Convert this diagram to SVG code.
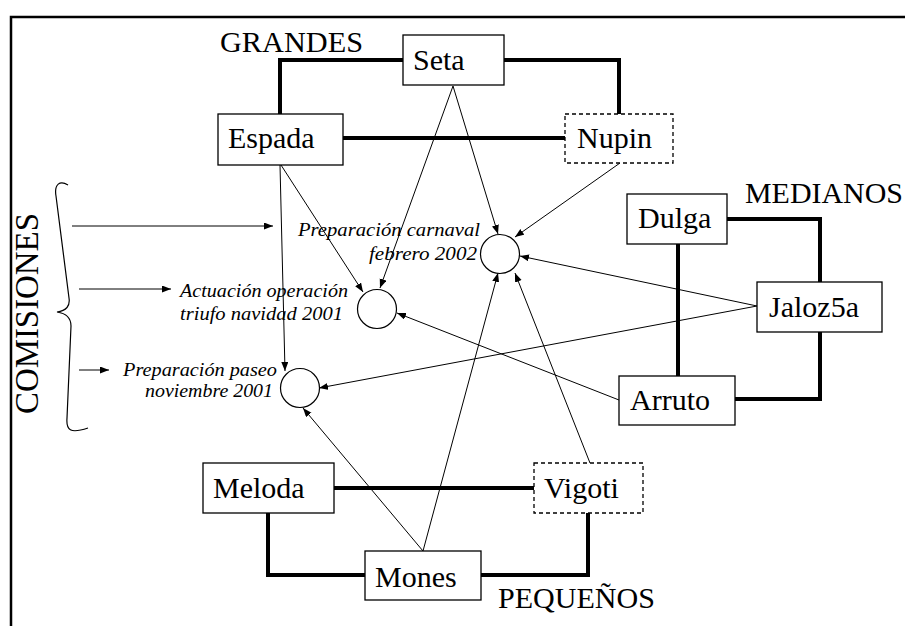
<svg xmlns="http://www.w3.org/2000/svg" width="905" height="626" viewBox="0 0 905 626">
<style>
.bg{fill:#fff}
.frame{fill:none;stroke:#000;stroke-width:2.5}
.box{fill:#fff;stroke:#000;stroke-width:1.3}
.dash{fill:#fff;stroke:#000;stroke-width:1.3;stroke-dasharray:4 3}
.circ{fill:#fff;stroke:#000;stroke-width:1.2}
.thick{fill:none;stroke:#000;stroke-width:4}
.thin{fill:none;stroke:#000;stroke-width:1;marker-end:url(#ah)}
text{font-family:'Liberation Serif','Times New Roman','DejaVu Serif',serif;fill:#000}
.lbl{font-size:30px}
.grp{font-size:30px}
.it{font-size:19px;font-style:italic}
</style>
<defs>
<marker id="ah" markerUnits="userSpaceOnUse" markerWidth="10" markerHeight="8" refX="9" refY="3.5" orient="auto">
<path d="M0,0 L9,3.5 L0,7 z" fill="#000"/>
</marker>
</defs>
<rect class="bg" x="0" y="0" width="905" height="626"/>
<path class="frame" d="M11,640 L11,17 L920,17"/>

<g id="labels">
<text class="grp" x="220" y="52" textLength="143" lengthAdjust="spacingAndGlyphs">GRANDES</text>
<text class="grp" x="745" y="203" textLength="158" lengthAdjust="spacingAndGlyphs">MEDIANOS</text>
<text class="grp" x="498" y="608" textLength="157" lengthAdjust="spacingAndGlyphs">PEQUEÑOS</text>
<text class="grp" transform="translate(38,414) rotate(-90)" style="font-size:34px" textLength="201" lengthAdjust="spacingAndGlyphs">COMISIONES</text>
</g>

<g id="thick-links">
<path class="thick" d="M280,114 L280,60 L403,60"/>
<path class="thick" d="M504,60 L619,60 L619,114"/>
<path class="thick" d="M343,138 L565,138"/>
<path class="thick" d="M727,219 L820,219 L820,282"/>
<path class="thick" d="M820,332 L820,399 L735,399"/>
<path class="thick" d="M678,244 L678,376"/>
<path class="thick" d="M334,488 L534,488"/>
<path class="thick" d="M268,513 L268,575 L365,575"/>
<path class="thick" d="M481,575 L588,575 L588,513"/>
</g>

<g id="brace">
<path fill="none" stroke="#000" stroke-width="1.2" d="M68,185 C60,180 54,184 56,196 L69,298 Q71,310 57,312 Q71,314 71,326 L67,418 C66,430 70,434 88,428"/>
</g>

<g id="connectors">
<path class="thin" d="M72,226 L273,226"/>
<path class="thin" d="M79,289 L171,289"/>
<path class="thin" d="M79,370 L109,370"/>
<path class="thin" d="M453,86 L498,234"/>
<path class="thin" d="M453,86 L380,288"/>
<path class="thin" d="M281,165 L363,292"/>
<path class="thin" d="M280,165 L285,371"/>
<path class="thin" d="M620,163 L515,237"/>
<path class="thin" d="M757,306 L520,256"/>
<path class="thin" d="M757,306 L319,388"/>
<path class="thin" d="M619,400 L397,313"/>
<path class="thin" d="M423,551 L498,273"/>
<path class="thin" d="M423,551 L303,408"/>
<path class="thin" d="M590,463 L515,273"/>
</g>

<g id="c-carnaval">
<circle class="circ" cx="500" cy="254" r="19.5"/>
<text class="it" x="298" y="236" textLength="182" lengthAdjust="spacingAndGlyphs">Preparación carnaval</text>
<text class="it" x="369" y="260" textLength="108" lengthAdjust="spacingAndGlyphs">febrero 2002</text>
</g>
<g id="c-actuacion">
<circle class="circ" cx="377" cy="309" r="19.5"/>
<text class="it" x="180" y="297" textLength="168" lengthAdjust="spacingAndGlyphs">Actuación operación</text>
<text class="it" x="180" y="320" textLength="163" lengthAdjust="spacingAndGlyphs">triufo navidad 2001</text>
</g>
<g id="c-paseo">
<circle class="circ" cx="300" cy="388" r="19.5"/>
<text class="it" x="123" y="376" textLength="154" lengthAdjust="spacingAndGlyphs">Preparación paseo</text>
<text class="it" x="145" y="397" textLength="128" lengthAdjust="spacingAndGlyphs">noviembre 2001</text>
</g>

<g id="seta"><rect class="box" x="403" y="35" width="101" height="50"/><text class="lbl" x="413" y="70">Seta</text></g>
<g id="espada"><rect class="box" x="218" y="114" width="125" height="51"/><text class="lbl" x="228" y="148">Espada</text></g>
<g id="nupin"><rect class="dash" x="565" y="114" width="108" height="49"/><text class="lbl" x="577" y="148">Nupin</text></g>
<g id="dulga"><rect class="box" x="627" y="194" width="100" height="50"/><text class="lbl" x="638" y="228">Dulga</text></g>
<g id="jaloz5a"><rect class="box" x="757" y="282" width="125" height="50"/><text class="lbl" x="769" y="317">Jaloz5a</text></g>
<g id="arruto"><rect class="box" x="619" y="376" width="116" height="49"/><text class="lbl" x="630" y="410">Arruto</text></g>
<g id="meloda"><rect class="box" x="203" y="463" width="131" height="50"/><text class="lbl" x="213" y="498">Meloda</text></g>
<g id="vigoti"><rect class="dash" x="534" y="463" width="109" height="50"/><text class="lbl" x="544" y="498">Vigoti</text></g>
<g id="mones"><rect class="box" x="365" y="551" width="116" height="49"/><text class="lbl" x="375" y="587">Mones</text></g>
</svg>
